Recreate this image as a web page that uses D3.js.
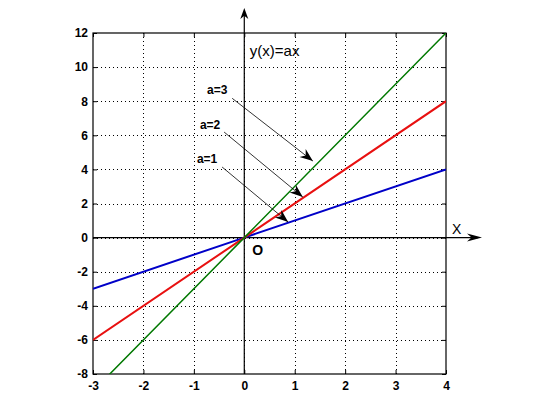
<!DOCTYPE html>
<html>
<head>
<meta charset="utf-8">
<script src="https://cdn.jsdelivr.net/npm/d3@7"></script>
<style>
  body { margin: 0; background: #fff; }
  svg text { font-family: Arial, "Liberation Sans", sans-serif; }
</style>
</head>
<body>
<div id="app"></div>
<script>
const WIDTH = 560
const HEIGHT = 420
const M = { left: 93, right: 114, top: 33, bottom: 46 }

// x positions and series values y = a*x
const xValues = [-3, 0, 4]
const blueY = [-3, 0, 4]    // a=1
const redY = [-6, 0, 8]     // a=2
const greenY = [-9, 0, 12]  // a=3

const xTicks = [-3, -2, -1, 0, 1, 2, 3, 4]
const yTicks = [-8, -6, -4, -2, 0, 2, 4, 6, 8, 10, 12]

// annotation labels, text anchor, line start and arrow tip (data units)
const annLabels = ['a=1', 'a=2', 'a=3']
const annText = [[-0.94, 4.38], [-0.88, 6.37], [-0.74, 8.42]]
const annFrom = [[-0.44, 4.14], [-0.40, 6.19], [-0.24, 8.17]]
const annTo = [[0.87, 0.91], [1.16, 2.38], [1.36, 4.49]]

const x = d3.scaleLinear().domain([-3, 4]).range([M.left, WIDTH - M.right])
const y = d3.scaleLinear().domain([-8, 12]).range([HEIGHT - M.bottom, M.top])

const svg = d3.select('#app').append('svg')
  .attr('width', WIDTH)
  .attr('height', HEIGHT)

svg.append('defs').append('clipPath').attr('id', 'plot')
  .append('rect')
  .attr('x', x(-3)).attr('y', y(12))
  .attr('width', x(4) - x(-3)).attr('height', y(-8) - y(12))

// dotted grid
const grid = svg.append('g')
  .attr('stroke', '#000')
  .attr('stroke-width', 1)
  .attr('stroke-dasharray', '1,3')
grid.selectAll('line.gx')
  .data(xTicks.slice(1, -1))
  .enter().append('line')
  .attr('x1', d => Math.round(x(d)) + .5).attr('x2', d => Math.round(x(d)) + .5)
  .attr('y1', y(12)).attr('y2', y(-8))
grid.selectAll('line.gy')
  .data(yTicks.slice(1, -1))
  .enter().append('line')
  .attr('y1', d => Math.round(y(d)) + .5).attr('y2', d => Math.round(y(d)) + .5)
  .attr('x1', x(-3)).attr('x2', x(4))

// axes with inward ticks, plain hyphen for negatives
const fmt = d => String(d)
const axisStyle = g => {
  g.select('.domain').remove()
  g.selectAll('text')
    .style('font-size', '12px')
    .style('font-weight', 'bold')
    .attr('fill', '#000')
}
svg.append('g')
  .attr('transform', `translate(0,${y(-8)})`)
  .call(d3.axisBottom(x).tickValues(xTicks).tickSize(-4).tickPadding(7).tickFormat(fmt))
  .call(axisStyle)
svg.append('g')
  .attr('transform', `translate(${x(-3)},0)`)
  .call(d3.axisLeft(y).tickValues(yTicks).tickSize(-4).tickPadding(5).tickFormat(fmt))
  .call(axisStyle)
svg.append('g')
  .attr('transform', `translate(0,${y(12)})`)
  .call(d3.axisTop(x).tickValues(xTicks).tickSize(-4).tickFormat(''))
  .call(axisStyle)
svg.append('g')
  .attr('transform', `translate(${x(4)},0)`)
  .call(d3.axisRight(y).tickValues(yTicks).tickSize(-4).tickFormat(''))
  .call(axisStyle)

svg.append('rect')
  .attr('x', x(-3)).attr('y', y(12))
  .attr('width', x(4) - x(-3)).attr('height', y(-8) - y(12))
  .attr('fill', 'none')
  .attr('stroke', '#000')
  .attr('stroke-width', 1.2)

// coordinate axes with arrows
const arrowHead = (tip, from, len, half) => {
  const dx = tip[0] - from[0], dy = tip[1] - from[1]
  const L = Math.hypot(dx, dy), ux = dx / L, uy = dy / L
  const bx = tip[0] - ux * len, by = tip[1] - uy * len
  const nx = tip[0] - ux * len * .7, ny = tip[1] - uy * len * .7
  return `M${tip[0]},${tip[1]}L${bx - uy * half},${by + ux * half}L${nx},${ny}L${bx + uy * half},${by - ux * half}Z`
}

const yAxisTop = 8
const xAxisEnd = 482
svg.append('line')
  .attr('x1', x(0)).attr('x2', x(0))
  .attr('y1', yAxisTop + 4).attr('y2', y(-8))
  .attr('stroke', '#000').attr('stroke-width', 1.2)
svg.append('path')
  .attr('d', arrowHead([x(0), yAxisTop], [x(0), y(0)], 11, 4))
  .attr('fill', '#000')
svg.append('line')
  .attr('x1', x(-3)).attr('x2', xAxisEnd - 4)
  .attr('y1', y(0)).attr('y2', y(0))
  .attr('stroke', '#000').attr('stroke-width', 1.2)
svg.append('path')
  .attr('d', arrowHead([xAxisEnd, y(0)], [x(0), y(0)], 15, 4))
  .attr('fill', '#000')

// the three lines
const line = d3.line().x((d, i) => x(xValues[i])).y(d => y(d))
const series = [
  { values: blueY, color: '#0000c8', width: 2 },
  { values: redY, color: '#e81010', width: 2 },
  { values: greenY, color: '#007800', width: 1.5 }
]
svg.append('g')
  .attr('clip-path', 'url(#plot)')
.selectAll('path')
  .data(series)
  .enter()
.append('path')
  .attr('d', d => line(d.values))
  .attr('fill', 'none')
  .attr('stroke', d => d.color)
  .attr('stroke-width', d => d.width)

// annotations
const ann = svg.append('g')
annLabels.forEach((label, i) => {
  const p0 = [x(annFrom[i][0]), y(annFrom[i][1])]
  const p1 = [x(annTo[i][0]), y(annTo[i][1])]
  ann.append('line')
    .attr('x1', p0[0]).attr('y1', p0[1])
    .attr('x2', p1[0]).attr('y2', p1[1])
    .attr('stroke', '#000').attr('stroke-width', .8)
  ann.append('path')
    .attr('d', arrowHead(p1, p0, 13, 5))
    .attr('fill', '#000')
  ann.append('text')
    .attr('x', x(annText[i][0])).attr('y', y(annText[i][1]))
    .style('font-size', '12px')
    .style('font-weight', 'bold')
    .text(label)
})

svg.append('text')
  .attr('x', x(0.11)).attr('y', y(10.65))
  .style('font-size', '15px')
  .text('y(x)=ax')
svg.append('text')
  .attr('x', x(0) + 8).attr('y', y(0) + 17)
  .style('font-size', '14px')
  .style('font-weight', 'bold')
  .text('O')
svg.append('text')
  .attr('x', 452).attr('y', y(0) - 4)
  .style('font-size', '14px')
  .text('X')
</script>
</body>
</html>
